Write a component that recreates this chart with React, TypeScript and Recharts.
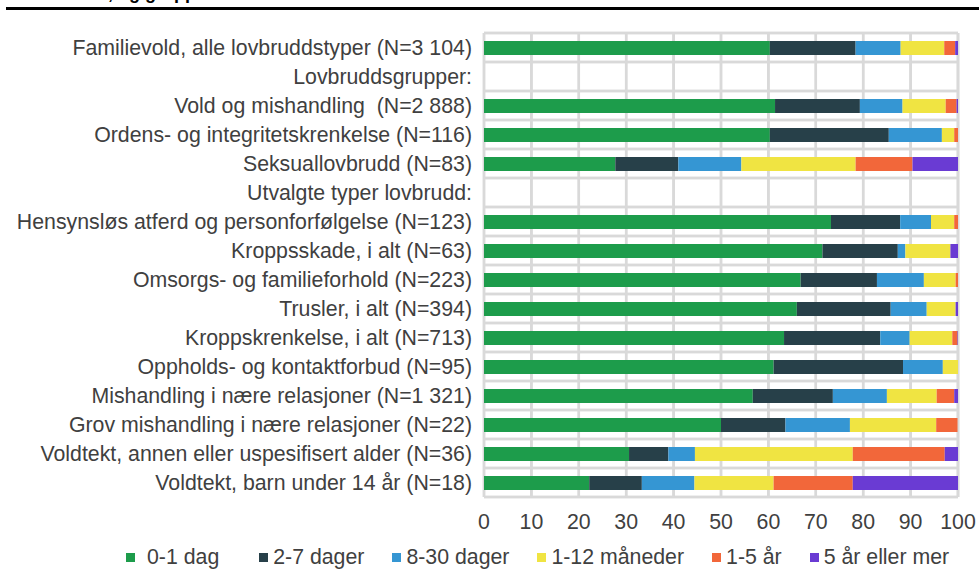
import React from 'react';
import { BarChart, Bar, XAxis, YAxis, CartesianGrid } from 'recharts';

// Categories (top to bottom)
const categories = [
  'Familievold, alle lovbruddstyper (N=3 104)',
  'Lovbruddsgrupper:',
  'Vold og mishandling \u00a0(N=2 888)',
  'Ordens- og integritetskrenkelse (N=116)',
  'Seksuallovbrudd (N=83)',
  'Utvalgte typer lovbrudd:',
  'Hensynsløs atferd og personforfølgelse (N=123)',
  'Kroppsskade, i alt (N=63)',
  'Omsorgs- og familieforhold (N=223)',
  'Trusler, i alt (N=394)',
  'Kroppskrenkelse, i alt (N=713)',
  'Oppholds- og kontaktforbud (N=95)',
  'Mishandling i nære relasjoner (N=1 321)',
  'Grov mishandling i nære relasjoner (N=22)',
  'Voldtekt, annen eller uspesifisert alder (N=36)',
  'Voldtekt, barn under 14 år (N=18)',
];

// Share in percent per time group
const dag01 = [60.3, 0, 61.4, 60.3, 27.7, 0, 73.2, 71.4, 66.8, 66.0, 63.3, 61.1, 56.7, 50.0, 30.6, 22.2];
const dager27 = [18.1, 0, 17.9, 25.1, 13.3, 0, 14.6, 15.9, 16.1, 19.8, 20.3, 27.3, 16.9, 13.6, 8.3, 11.1];
const dager830 = [9.5, 0, 9.0, 11.2, 13.3, 0, 6.5, 1.6, 9.9, 7.6, 6.2, 8.4, 11.4, 13.6, 5.6, 11.1];
const maaneder112 = [9.2, 0, 9.1, 2.6, 24.1, 0, 4.9, 9.5, 6.7, 6.1, 9.0, 3.2, 10.5, 18.2, 33.3, 16.7];
const aar15 = [2.3, 0, 2.3, 0.8, 12.0, 0, 0.8, 0, 0.5, 0, 1.1, 0, 3.7, 4.5, 19.4, 16.7];
const aar5pluss = [0.6, 0, 0.3, 0, 9.6, 0, 0, 1.6, 0, 0.5, 0.1, 0, 0.8, 0, 2.8, 22.2];

const xTicks = [0, 10, 20, 30, 40, 50, 60, 70, 80, 90, 100];

const series = [
  { key: 'd01', name: '0-1 dag', values: dag01, color: '#1d9c4b' },
  { key: 'd27', name: '2-7 dager', values: dager27, color: '#274049' },
  { key: 'd830', name: '8-30 dager', values: dager830, color: '#3596d3' },
  { key: 'm112', name: '1-12 måneder', values: maaneder112, color: '#f0e442' },
  { key: 'a15', name: '1-5 år', values: aar15, color: '#f2673a' },
  { key: 'a5', name: '5 år eller mer', values: aar5pluss, color: '#6a3bd3' },
];

const data = categories.map((name, i) => {
  const row: any = { name };
  series.forEach((s) => {
    row[s.key] = s.values[i];
  });
  return row;
});

const textColor = '#404040';
const gridColor = '#d9d9d9';
const font = '"Liberation Sans", Arial, sans-serif';
const fontSize = 21.3;

const chartW = 979;
const chartH = 569;
const margin = { top: 33, right: 21, bottom: 0, left: 0 };
const yAxisW = 484;
const xAxisH = 72;
const plotLeft = margin.left + yAxisW;
const plotW = chartW - plotLeft - margin.right;
const plotH = chartH - margin.top - margin.bottom - xAxisH;
// grid lines on the row boundaries, like the original
const rowLines = Array.from({ length: categories.length + 1 }, (_, i) => margin.top + (i * plotH) / categories.length);
const colLines = xTicks.map((t) => plotLeft + (t / 100) * plotW);

const App: React.FC = () => {
  return (
    <div
      style={{
        position: 'absolute',
        left: 0,
        top: 0,
        width: chartW,
        height: chartH,
        background: '#fff',
        overflow: 'hidden',
        fontFamily: font,
      }}
    >
      {/* background grid behind the chart */}
      <svg width={chartW} height={chartH} style={{ position: 'absolute', left: 0, top: 0 }}>
        {rowLines.map((y, i) => (
          <line key={'h' + i} x1={plotLeft} x2={plotLeft + plotW} y1={y} y2={y} stroke={gridColor} strokeWidth={2.5} />
        ))}
        {colLines.map((x, i) => (
          <line key={'v' + i} x1={x} x2={x} y1={margin.top} y2={margin.top + plotH} stroke={gridColor} strokeWidth={2.5} />
        ))}
      </svg>

      <BarChart width={chartW} height={chartH} layout="vertical" data={data} margin={margin}>
        <CartesianGrid stroke={gridColor} strokeWidth={2.5} horizontalPoints={rowLines} />
        <XAxis type="number" domain={[0, 100]} ticks={xTicks} height={xAxisH} tickLine={false} axisLine={false} tickMargin={11} tick={{ fill: textColor, fontSize, fontFamily: font }} />
        <YAxis type="category" dataKey="name" width={yAxisW} interval={0} tickLine={false} axisLine={false} tickMargin={6} tick={{ fill: textColor, fontSize, fontFamily: font }} />
        {series.map((s) => (
          <Bar key={s.key} dataKey={s.key} name={s.name} stackId="a" fill={s.color} barSize={14} isAnimationActive={false} />
        ))}
      </BarChart>

      {/* clipped title from the page above */}
      <div style={{ position: 'absolute', left: 10, top: -16, fontSize: 18, lineHeight: '18px', fontWeight: 'bold', whiteSpace: 'nowrap' }}>
        anmeldelse, og grupper
      </div>
      <div style={{ position: 'absolute', left: 6, right: 0, top: 7, height: 3, background: '#000' }} />

      {/* legend */}
      <div style={{ position: 'absolute', left: 126, top: 545, display: 'flex', alignItems: 'center', fontSize, color: textColor, whiteSpace: 'nowrap' }}>
        {series.map((s, i) => (
          <div key={s.key} style={{ display: 'flex', alignItems: 'center', marginRight: i === 0 ? 40 : 28 }}>
            <span style={{ display: 'inline-block', width: 9, height: 9, background: s.color, marginRight: i === 0 ? 12 : 5 }} />
            <span>{s.name}</span>
          </div>
        ))}
      </div>
    </div>
  );
};

export default App;
